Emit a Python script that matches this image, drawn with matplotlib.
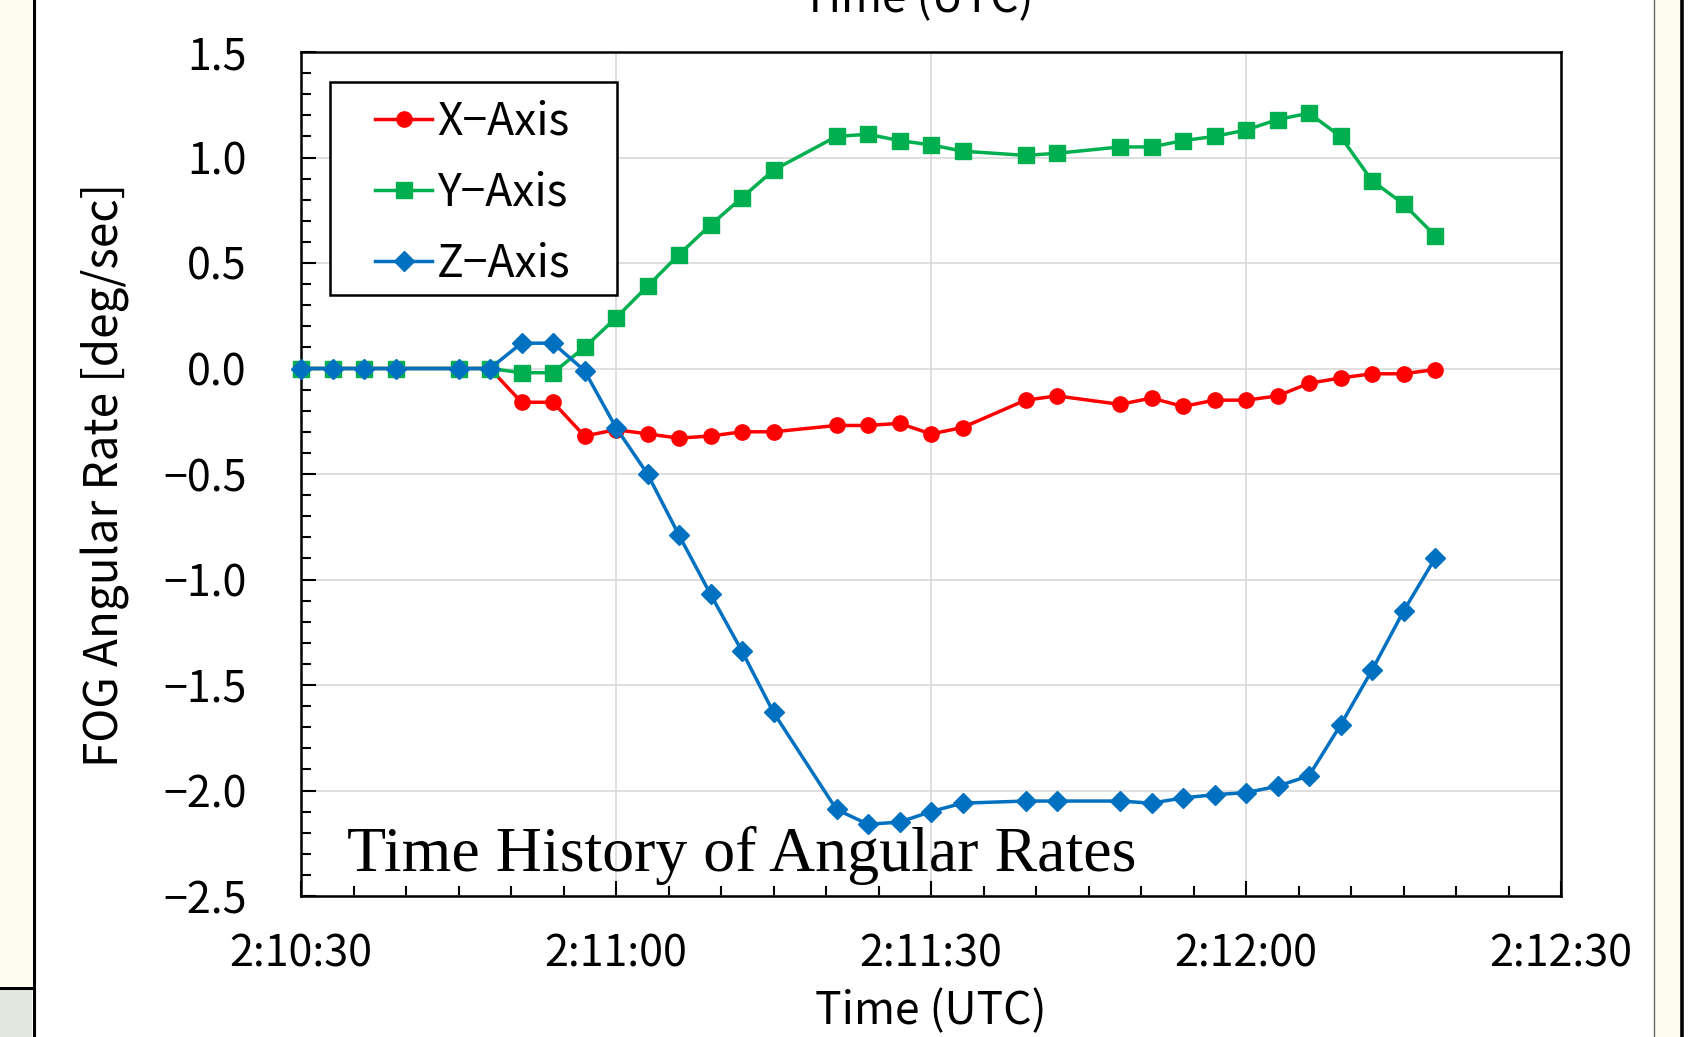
import numpy as np
import matplotlib
matplotlib.use('Agg')
import matplotlib.pyplot as plt
import matplotlib.ticker as mticker
from matplotlib.patches import Rectangle, Shadow
from matplotlib.lines import Line2D

plt.rcParams['font.family'] = ['Noto Sans CJK JP', 'DejaVu Sans']

# seconds after 2:10:30 UTC
t_sec = [0, 3, 6, 9, 15, 18, 21, 24, 27, 30, 33, 36, 39, 42, 45, 51, 54, 57, 60, 63,
         69, 72, 78, 81, 84, 87, 90, 93, 96, 99, 102, 105, 108]
x_rate = [0, 0, 0, 0, 0, 0, -0.16, -0.16, -0.32, -0.29, -0.31, -0.33, -0.32, -0.30, -0.30,
          -0.27, -0.27, -0.26, -0.31, -0.28, -0.15, -0.13, -0.17, -0.14, -0.18, -0.15,
          -0.15, -0.13, -0.07, -0.045, -0.025, -0.025, -0.005]
y_rate = [0, 0, 0, 0, 0, 0, -0.02, -0.02, 0.10, 0.24, 0.39, 0.54, 0.68, 0.81, 0.94,
          1.10, 1.11, 1.08, 1.06, 1.03, 1.01, 1.02, 1.05, 1.05, 1.08, 1.10, 1.13,
          1.18, 1.21, 1.10, 0.89, 0.78, 0.63]
z_rate = [0, 0, 0, 0, 0, 0, 0.12, 0.12, -0.01, -0.28, -0.50, -0.79, -1.07, -1.34, -1.63,
          -2.09, -2.16, -2.15, -2.10, -2.06, -2.05, -2.05, -2.05, -2.06, -2.035, -2.02,
          -2.01, -1.98, -1.93, -1.69, -1.43, -1.15, -0.90]
series_names = ['X\u2212Axis', 'Y\u2212Axis', 'Z\u2212Axis']
t_start = 2*3600 + 10*60 + 30

W, H = 1692, 1037
fig = plt.figure(figsize=(W/100, H/100), dpi=100)
fig.patch.set_facecolor('white')

def fx(x):
    return x/W
def fy(y):
    return 1 - y/H

# screenshot frame bits
beige = '#fdfcee'
fig.patches.append(Rectangle((0, fy(986)), fx(32), 1-fy(986), transform=fig.transFigure, facecolor=beige, edgecolor='none'))
fig.patches.append(Rectangle((0, 0), fx(32), fy(989), transform=fig.transFigure, facecolor='#e3e6dc', edgecolor='none'))
fig.patches.append(Rectangle((fx(1655), 0), fx(25), 1, transform=fig.transFigure, facecolor=beige, edgecolor='none'))
fig.lines.append(Line2D([fx(33.5)]*2, [0, 1], transform=fig.transFigure, color='black', lw=2.2))
fig.lines.append(Line2D([0, fx(33)], [fy(987.5)]*2, transform=fig.transFigure, color='black', lw=2.2))
fig.lines.append(Line2D([fx(1653.5)]*2, [0, 1], transform=fig.transFigure, color='#666666', lw=1.0))
fig.lines.append(Line2D([fx(1682)]*2, [0, 1], transform=fig.transFigure, color='black', lw=2.6))

ax = fig.add_axes([fx(301), fy(896), fx(1561)-fx(301), fy(52)-fy(896)])

cols = ['#ff0000', '#00b050', '#0070c0']
ax.plot(t_sec, x_rate, color=cols[0], lw=2.5, marker='o', ms=11, label=series_names[0], clip_on=False, zorder=3)
ax.plot(t_sec, y_rate, color=cols[1], lw=2.5, marker='s', ms=11, label=series_names[1], clip_on=False, zorder=3)
ax.plot(t_sec, z_rate, color=cols[2], lw=2.5, marker='D', ms=10.5, label=series_names[2], clip_on=False, zorder=3)

ax.set_xlim(0, 120)
ax.set_ylim(-2.5, 1.5)
ax.xaxis.set_major_locator(mticker.MultipleLocator(30))
ax.xaxis.set_minor_locator(mticker.MultipleLocator(5))
ax.yaxis.set_major_locator(mticker.MultipleLocator(0.5))
ax.yaxis.set_minor_locator(mticker.MultipleLocator(0.1))

def fmt_time(v, pos):
    s = int(round(t_start + v))
    return '%d:%02d:%02d' % (s//3600, (s % 3600)//60, s % 60)
ax.xaxis.set_major_formatter(mticker.FuncFormatter(fmt_time))
ax.yaxis.set_major_formatter(mticker.FuncFormatter(lambda v, p: ('%.1f' % v).replace('-', '\u2212')))

ax.grid(True, which='major', color='#d9d9d9', lw=1.2, zorder=0)
ax.set_axisbelow(True)
for sp in ax.spines.values():
    sp.set_linewidth(1.8)
ax.tick_params(which='both', direction='in', width=1.5, colors='black', labelsize=31)
ax.tick_params(which='major', length=11)
ax.tick_params(which='minor', length=7)
ax.tick_params(axis='y', pad=39)
ax.tick_params(axis='x', pad=26)

# legend with own frame and shadow
box = Rectangle((0.023, 0.7121), 0.2278, 0.2524, transform=ax.transAxes, facecolor='white',
                edgecolor='black', lw=1.8, zorder=6, clip_on=False)
shadow = Shadow(box, 4, -4, facecolor='#9a9a9a', alpha=0.5, edgecolor='none', zorder=5)
ax.add_patch(shadow)
ax.add_patch(box)
leg = ax.legend(loc='center left', bbox_to_anchor=(0.0585, 0.8338), frameon=False, fontsize=32,
                borderpad=0, borderaxespad=0, handlelength=1.3, handletextpad=0.1, labelspacing=0.56)
leg.set_zorder(7)

fig.text(fx(931), fy(1011), 'Time (UTC)', fontsize=32, ha='center', va='center')
fig.text(fx(918), fy(12), 'Time (UTC)', fontsize=32, ha='center', va='baseline')
fig.text(fx(105), fy(475), 'FOG Angular Rate [deg/sec]', fontsize=33, rotation=90, ha='center', va='center')
fig.text(fx(347), fy(871), 'Time History of Angular Rates', fontsize=46, family='Liberation Serif',
         ha='left', va='baseline')

fig.savefig('out.png', dpi=100)
